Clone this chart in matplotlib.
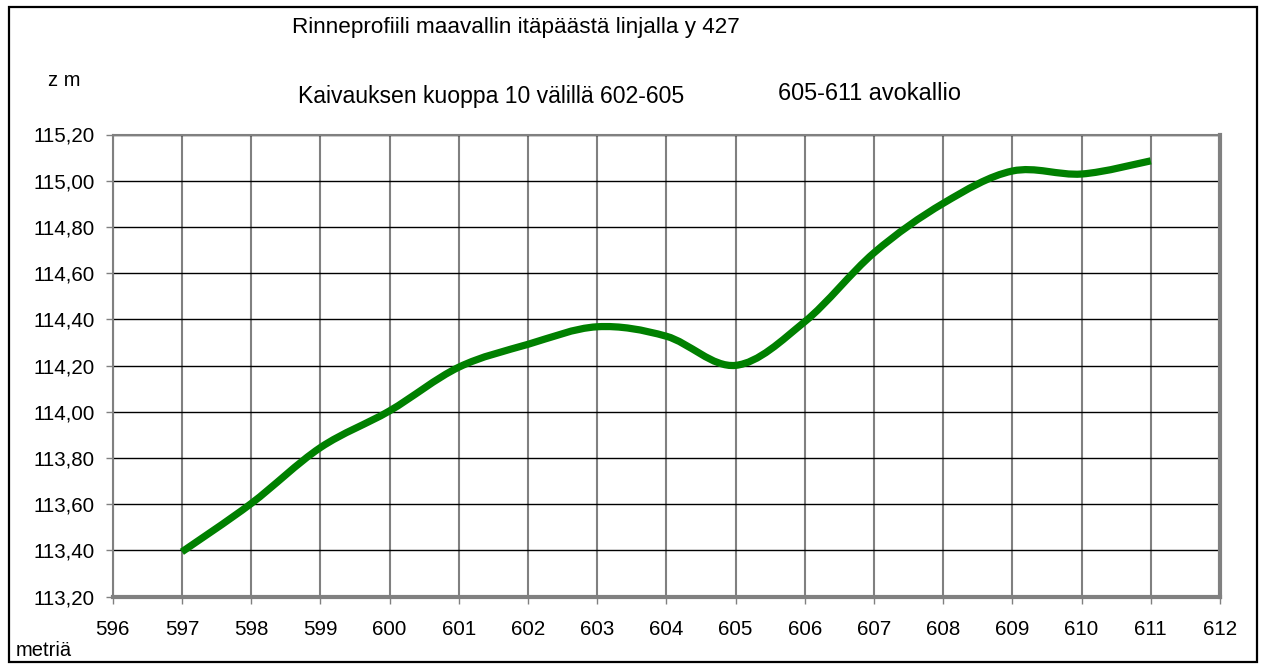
"""
Rinneprofiili maavallin itäpäästä - slope profile line chart
 - smoothed line like a spreadsheet "smoothed line" (bezier through the points)
"""

# Import libraries
import matplotlib.pyplot as plt
from matplotlib.patches import PathPatch, Rectangle
from matplotlib.path import Path
from matplotlib.ticker import FuncFormatter, MultipleLocator

plt.rcParams['font.family'] = ['Liberation Sans', 'DejaVu Sans']

# Data ------------------------------------------------------------------------
metria = [597, 598, 599, 600, 601, 602, 603, 604, 605, 606, 607, 608, 609,
          610, 611]
korkeus = [113.394, 113.603, 113.845, 114.004, 114.193, 114.292, 114.368,
           114.327, 114.201, 114.390, 114.688, 114.902, 115.042, 115.029,
           115.086]

otsikko = "Rinneprofiili maavallin itäpäästä linjalla y 427"
huom1 = "Kaivauksen kuoppa 10 välillä 602-605"
huom2 = "605-611 avokallio"


def smooth_path(xs, ys):
  # cubic bezier segments through the points (catmull-rom style control points)
  pts = list(zip(xs, ys))
  n = len(pts)
  verts = [pts[0]]
  codes = [Path.MOVETO]
  for i in range(n - 1):
    p0 = pts[max(i - 1, 0)]
    p1 = pts[i]
    p2 = pts[i + 1]
    p3 = pts[min(i + 2, n - 1)]
    c1 = (p1[0] + (p2[0] - p0[0]) / 6, p1[1] + (p2[1] - p0[1]) / 6)
    c2 = (p2[0] - (p3[0] - p1[0]) / 6, p2[1] - (p3[1] - p1[1]) / 6)
    verts += [c1, c2, p2]
    codes += [Path.CURVE4] * 3
  return Path(verts, codes)


# Figure ------------------------------------------------------------------------
W, H = 1264, 664
fig = plt.figure(figsize=(W / 100, H / 100), dpi=100)
ax = fig.add_axes([112.7 / W, (H - 596.7) / H, (1220 - 112.7) / W, (596.7 - 134.5) / H])

ax.add_patch(PathPatch(smooth_path(metria, korkeus), facecolor='none',
                       edgecolor='#008000', lw=5.2, capstyle='butt',
                       joinstyle='round', zorder=3))

ax.set_xlim(596, 612)
ax.set_ylim(113.2, 115.2)
ax.xaxis.set_major_locator(MultipleLocator(1))
ax.yaxis.set_major_locator(MultipleLocator(0.2))
ax.yaxis.set_major_formatter(FuncFormatter(lambda v, p: f"{v:.2f}".replace('.', ',')))

# grid: vertical gray, horizontal black
ax.grid(axis='x', color='#808080', lw=1.5, zorder=1)
ax.grid(axis='y', color='black', lw=1.0, zorder=1)

ax.tick_params(axis='both', direction='out', length=5, width=1, color='#808080',
               labelsize=14.8, labelcolor='black')
ax.tick_params(axis='x', pad=12)
ax.tick_params(axis='y', pad=8)

for s in ['top', 'left']:
  ax.spines[s].set_color('#808080')
  ax.spines[s].set_linewidth(1.5)
for s in ['bottom', 'right']:
  ax.spines[s].set_color('#808080')
  ax.spines[s].set_linewidth(3)

# Texts ---------------------------------------------------------------------------
fig.text(292 / W, 1 - 28 / H, otsikko, fontsize=16.2, ha='left', va='center')
fig.text(48 / W, 1 - 80 / H, "z m", fontsize=14.5, ha='left', va='center')
fig.text(298 / W, 1 - 97 / H, huom1, fontsize=16.6, ha='left', va='center')
fig.text(778 / W, 1 - 93 / H, huom2, fontsize=16.9, ha='left', va='center')
fig.text(16 / W, 1 - 650 / H, "metriä", fontsize=14.5, ha='left', va='center')

# outer frame
fig.patches.append(Rectangle((8.5 / W, (H - 662) / H), (1257 - 8.5) / W, (662 - 7) / H,
                             transform=fig.transFigure, fill=False, ec='black', lw=1.6))

fig.savefig("out.png", dpi=100, facecolor='white')
